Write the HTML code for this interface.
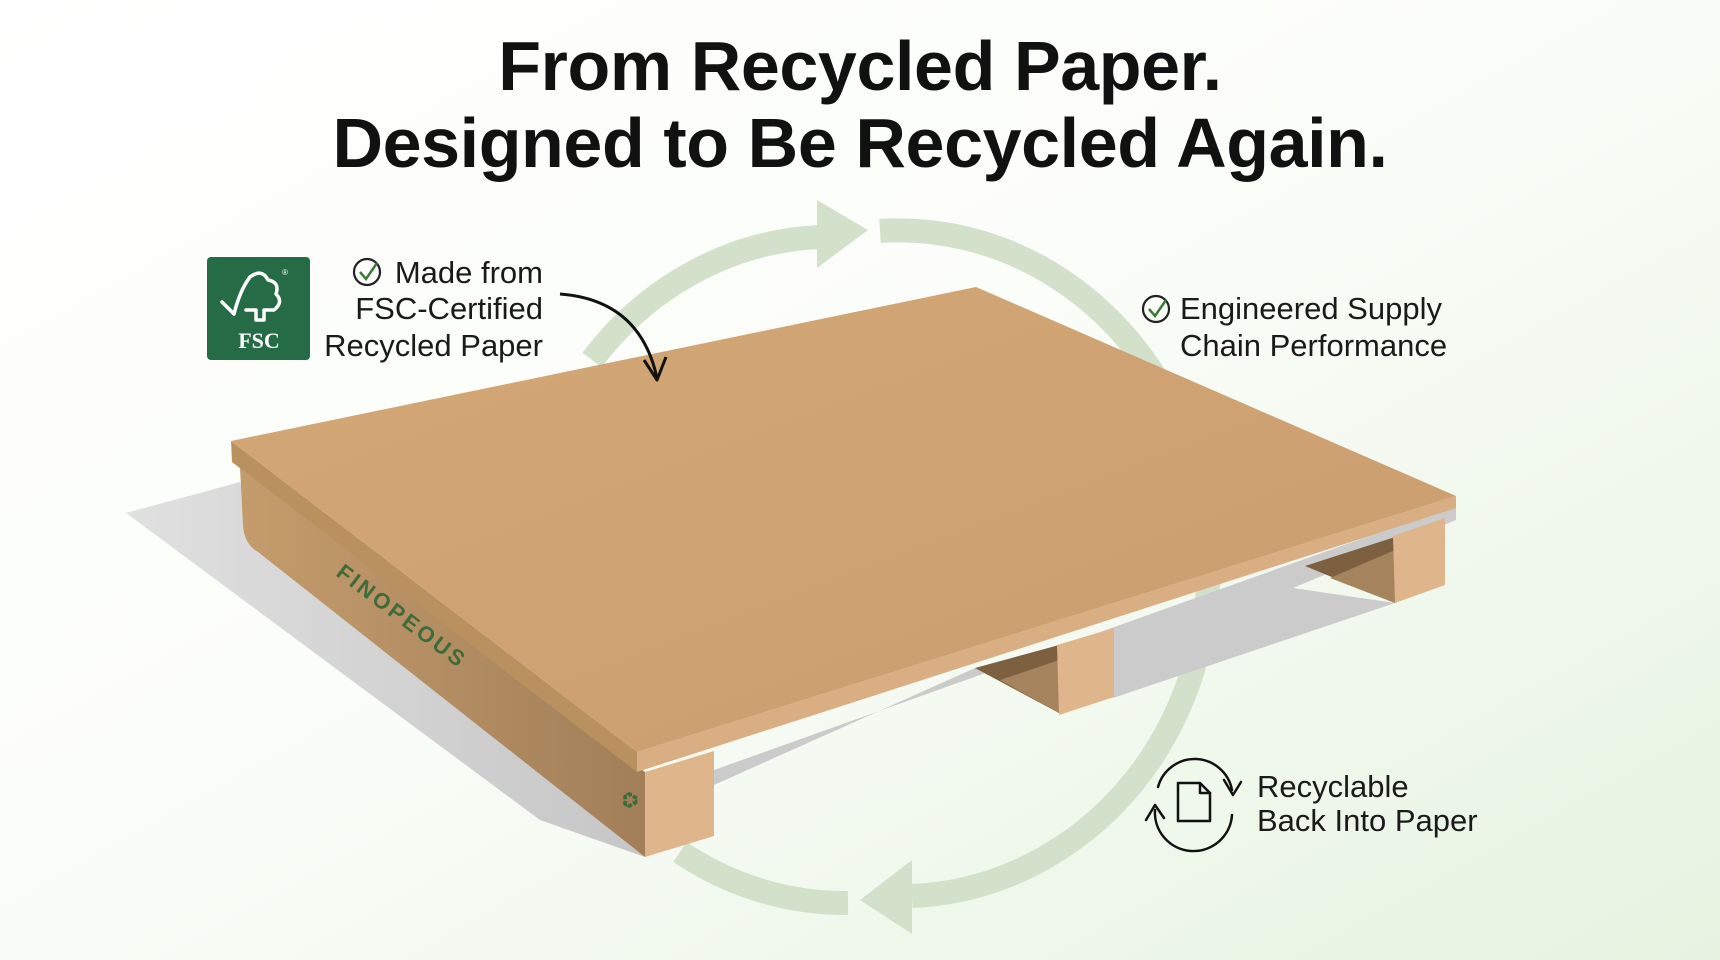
<!DOCTYPE html>
<html><head><meta charset="utf-8"><style>
html,body{margin:0;padding:0;width:1720px;height:960px;overflow:hidden;background:#fff}
svg{display:block}
</style></head><body>
<svg width="1720" height="960" viewBox="0 0 1720 960" xmlns="http://www.w3.org/2000/svg">
<defs>
<linearGradient id="bg" x1="0" y1="0" x2="1" y2="1">
<stop offset="0" stop-color="#ffffff"/><stop offset="0.45" stop-color="#fbfdf9"/><stop offset="1" stop-color="#e6f3e1"/>
</linearGradient>
<linearGradient id="top" x1="0" y1="0" x2="1" y2="1">
<stop offset="0" stop-color="#d4a776"/><stop offset="1" stop-color="#c99d6f"/>
</linearGradient>
<linearGradient id="side" x1="0" y1="0" x2="1" y2="0">
<stop offset="0" stop-color="#c49c6c"/><stop offset="1" stop-color="#a27f59"/>
</linearGradient>
<linearGradient id="sh" x1="0" y1="0" x2="1" y2="0">
<stop offset="0" stop-color="#e0e0e0"/><stop offset="1" stop-color="#c6c6c6"/>
</linearGradient>
</defs>
<rect width="1720" height="960" fill="url(#bg)"/>

<g fill="none" stroke="#d3e1cb" stroke-width="24" stroke-linecap="butt">
<path d="M592,360 A310,334 0 0 1 820,237"/>
<path d="M880,231 A310,334 0 0 1 1150,760 A310,334 0 0 1 912,896"/>
<path d="M848,903 A310,334 0 0 1 680,852"/>
</g>
<polygon points="817,200 868,230 817,268" fill="#d3e1cb"/>
<polygon points="912,860 860,900 912,934" fill="#d3e1cb"/>

<polygon points="126,513 240,482 258,548 645,857 540,820" fill="url(#sh)"/>
<polygon points="714,770 1456,505 1456,520 1293,588 1395,603 1113,698 1113,655 975,668 714,785" fill="#cbcbcb"/>
<polygon points="975,668 1059,645 1059,713" fill="#7d6040"/>
<polygon points="1000,680 1059,660 1059,713" fill="#a5835c"/>
<polygon points="1305,566 1395,537 1395,603" fill="#7d6040"/>
<polygon points="1330,578 1395,550 1395,603" fill="#a5835c"/>
<polygon points="1057,645 1114,628 1114,697 1059,715" fill="#dfb68c"/>
<polygon points="1393,536 1445,518 1445,585 1395,603" fill="#dfb68c"/>
<path d="M240,468 L645,772 L645,857 L258,552 Q244,544 243,525 Z" fill="url(#side)"/>
<polygon points="645,772 714,751 714,836 645,857" fill="#dfb68c"/>
<polygon points="231,441 637,752 637,772 232,462" fill="#b8915f"/>
<polygon points="637,752 1456,496 1456,508 637,772" fill="#d8ae82"/>
<polygon points="231,441 976,287 1456,496 637,752" fill="url(#top)"/>
<text x="0" y="0" transform="translate(335,575) rotate(37)" font-family="Liberation Sans, sans-serif" font-weight="bold" font-size="22" letter-spacing="3" fill="#3f6b3a">FINOPEOUS</text>
<text x="618" y="810" font-family="DejaVu Sans, sans-serif" font-size="22" fill="#3f6b3a" transform="rotate(90 630 802)">♻</text>

<g font-family="Liberation Sans, sans-serif" font-weight="bold" fill="#111" text-anchor="middle" font-size="70" letter-spacing="-0.4">
<text x="860" y="90">From Recycled Paper.</text>
<text x="860" y="167">Designed to Be Recycled Again.</text>
</g>

<rect x="207" y="257" width="103" height="103" rx="4" fill="#256b45"/>
<g fill="none" stroke="#fff" stroke-width="3.5" stroke-linejoin="round" stroke-linecap="round">
<path d="M222,302 L234,314 Q240,290 250,277"/>
<path d="M250,277 Q262,268 268,280 Q280,282 276,294 Q284,302 274,310 L264,310 L264,320 L256,320 L256,310 L246,310"/>
</g>
<text x="259" y="348" text-anchor="middle" font-family="Liberation Serif, serif" font-weight="bold" font-size="22" fill="#fff">FSC</text>
<text x="282" y="275" font-family="Liberation Sans, sans-serif" font-size="8" fill="#fff">®</text>

<g font-family="Liberation Sans, sans-serif" font-size="31" fill="#1a1a1a" text-anchor="end">
<text x="543" y="283">Made from</text>
<text x="543" y="319">FSC-Certified</text>
<text x="543" y="356">Recycled Paper</text>
</g>
<circle cx="367" cy="272" r="13" fill="none" stroke="#222" stroke-width="2.2"/>
<path d="M360,272 L366,279 L377,263" fill="none" stroke="#3c7a3c" stroke-width="2.5"/>
<path d="M560,294 Q640,300 657,378" fill="none" stroke="#111" stroke-width="3"/>
<path d="M644,360 L657,380 L666,357" fill="none" stroke="#111" stroke-width="3" stroke-linejoin="round"/>

<g font-family="Liberation Sans, sans-serif" font-size="31" fill="#1a1a1a">
<text x="1180" y="319">Engineered Supply</text>
<text x="1180" y="356">Chain Performance</text>
</g>
<circle cx="1156" cy="309" r="13" fill="none" stroke="#222" stroke-width="2.2"/>
<path d="M1149,309 L1155,316 L1166,300" fill="none" stroke="#3c7a3c" stroke-width="2.5"/>

<g fill="none" stroke="#111" stroke-width="2.5" stroke-linecap="round" stroke-linejoin="round">
<path d="M1158,787 A38,38 0 0 1 1232,790"/>
<path d="M1224,780 L1233,795 L1241,782"/>
<path d="M1232,815 A38,38 0 0 1 1155,810"/>
<path d="M1146,820 L1155,805 L1164,818"/>
<path d="M1178,783 L1200,783 L1210,793 L1210,821 L1178,821 Z"/>
<path d="M1200,783 L1200,793 L1210,793"/>
</g>
<g font-family="Liberation Sans, sans-serif" font-size="31" fill="#1a1a1a">
<text x="1257" y="797">Recyclable</text>
<text x="1257" y="831">Back Into Paper</text>
</g>
</svg>
</body></html>
